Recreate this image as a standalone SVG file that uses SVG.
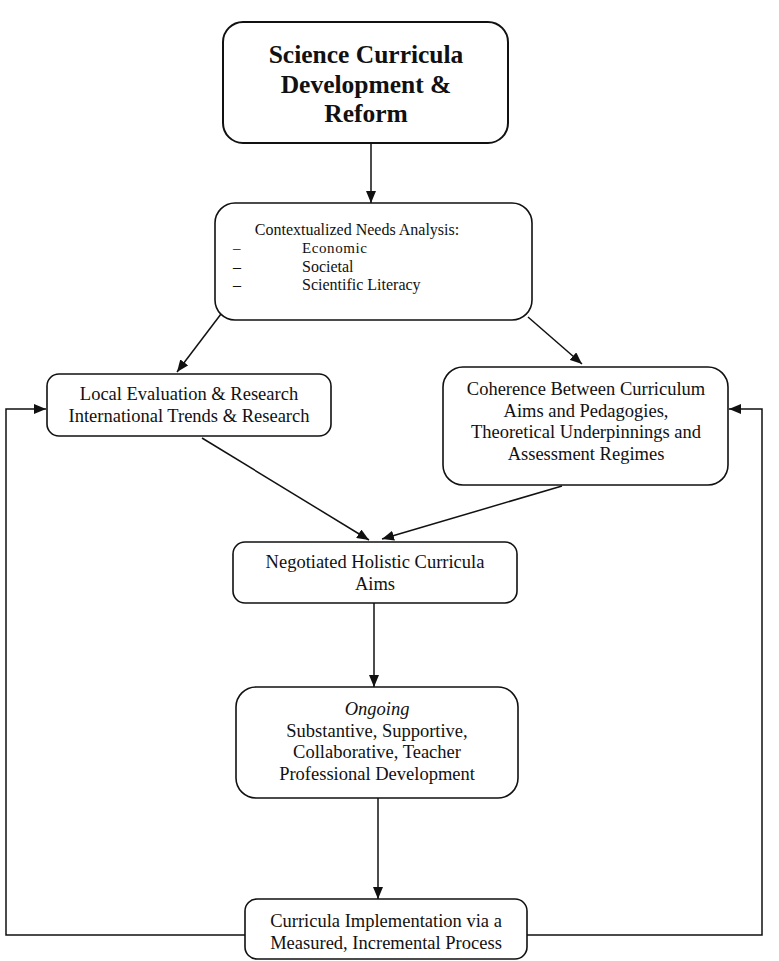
<svg xmlns="http://www.w3.org/2000/svg" width="779" height="961" viewBox="0 0 779 961">
<style>
.box{fill:#fff;stroke:#111;stroke-width:1.6}
.t{font-family:"Liberation Serif","Times New Roman",serif;font-size:18.5px;fill:#111;text-anchor:middle}
.b{font-weight:bold;font-size:25.5px}
.c{stroke:#111;stroke-width:1.5;fill:none}
</style>
<defs>
<marker id="ah" viewBox="0 0 12 10" refX="12" refY="5" markerWidth="12" markerHeight="10" markerUnits="userSpaceOnUse" orient="auto">
<path d="M0,0 L12,5 L0,10 Z" fill="#111"/>
</marker>
</defs>
<rect width="779" height="961" fill="#fff"/>
<g id="connectors">
<line class="c" x1="371" y1="143" x2="371" y2="203" marker-end="url(#ah)"/>
<line class="c" x1="221" y1="314" x2="177" y2="372" marker-end="url(#ah)"/>
<line class="c" x1="528" y1="317" x2="582" y2="364" marker-end="url(#ah)"/>
<line class="c" x1="202" y1="438" x2="369" y2="540" marker-end="url(#ah)"/>
<line class="c" x1="562" y1="486" x2="382" y2="539" marker-end="url(#ah)"/>
<line class="c" x1="374" y1="603" x2="374" y2="687" marker-end="url(#ah)"/>
<line class="c" x1="378" y1="798" x2="378" y2="899" marker-end="url(#ah)"/>
<polyline class="c" points="245,935 6,935 6,409 46,409" marker-end="url(#ah)"/>
<polyline class="c" points="527,935 762,935 762,409 729,409" marker-end="url(#ah)"/>
</g>
<g id="n-top">
<rect class="box" x="223" y="22" width="285" height="121" rx="20" style="stroke-width:2"/>
<text class="t b" x="366" y="63">Science Curricula</text>
<text class="t b" x="366" y="93">Development &amp;</text>
<text class="t b" x="366" y="122">Reform</text>
</g>
<g id="n-needs">
<rect class="box" x="215" y="203" width="317" height="117" rx="20"/>
<text class="t" x="357" y="235" style="font-size:16px">Contextualized Needs Analysis:</text>
<g style="font-family:'Liberation Serif',serif;fill:#111">
<text x="233" y="253" font-size="15">–</text>
<text x="302" y="253" font-size="15" letter-spacing="0.6">Economic</text>
<text x="233" y="272" font-size="16">–</text>
<text x="302" y="272" font-size="16">Societal</text>
<text x="233" y="290" font-size="16">–</text>
<text x="302" y="290" font-size="16">Scientific Literacy</text>
</g>
</g>
<g id="n-local">
<rect class="box" x="47" y="374" width="284" height="62" rx="12"/>
<text class="t" x="189" y="400">Local Evaluation &amp; Research</text>
<text class="t" x="189" y="422">International Trends &amp; Research</text>
</g>
<g id="n-coherence">
<rect class="box" x="443" y="367" width="285" height="118" rx="20"/>
<text class="t" x="586" y="395">Coherence Between Curriculum</text>
<text class="t" x="586" y="417">Aims and Pedagogies,</text>
<text class="t" x="586" y="438">Theoretical Underpinnings and</text>
<text class="t" x="586" y="460">Assessment Regimes</text>
</g>
<g id="n-negotiated">
<rect class="box" x="233" y="542" width="284" height="61" rx="12"/>
<text class="t" x="375" y="568">Negotiated Holistic Curricula</text>
<text class="t" x="375" y="590">Aims</text>
</g>
<g id="n-ongoing">
<rect class="box" x="236" y="687" width="282" height="111" rx="20"/>
<text class="t" x="377" y="715" font-style="italic">Ongoing</text>
<text class="t" x="377" y="737">Substantive, Supportive,</text>
<text class="t" x="377" y="758">Collaborative, Teacher</text>
<text class="t" x="377" y="780">Professional Development</text>
</g>
<g id="n-implementation">
<rect class="box" x="245" y="899" width="282" height="60" rx="12"/>
<text class="t" x="386" y="927">Curricula Implementation via a</text>
<text class="t" x="386" y="949">Measured, Incremental Process</text>
</g>
</svg>
